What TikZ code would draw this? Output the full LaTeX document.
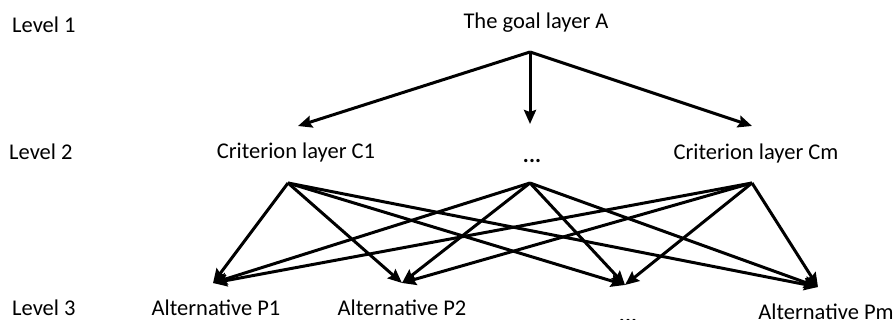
\documentclass[tikz,border=0pt]{standalone}
\usepackage{fontspec}
\setmainfont{Carlito}
\usetikzlibrary{arrows.meta}

\begin{document}
\begin{tikzpicture}[x=1pt,y=-1pt,>={Stealth[length=14pt,width=12pt,inset=2pt]},
  lbl/.style={anchor=base,inner sep=0pt,font=\fontsize{22.5}{27}\selectfont},
  link/.style={->,line width=3pt}]
\useasboundingbox (0,0) rectangle (893,320);
\node[lbl,anchor=base west] (lv1) at (12,33) {Level 1};
\node[lbl,anchor=base west] (lv2) at (9,160) {Level 2};
\node[lbl,anchor=base west] (lv3) at (12,315) {Level 3};
\node[lbl] (goal) at (536,29) {The goal layer A};
\node[lbl] (c1) at (296,159) {Criterion layer C1};
\node[lbl] (cdots) at (532,163) {\textbf{...}};
\node[lbl] (cm) at (756,160) {Criterion layer Cm};
\node[lbl] (p1) at (216,315) {Alternative P1};
\node[lbl] (p2) at (402,315) {Alternative P2};
\node[lbl] (pdots) at (628,322) {\textbf{...}};
\node[lbl] (pm) at (826,319) {Alternative Pm};
\coordinate (top) at (530,52);
\coordinate (c1in) at (298,126);
\coordinate (cdin) at (530,124);
\coordinate (cmin) at (752,126);
\coordinate (c1out) at (288,183);
\coordinate (cdout) at (530,183);
\coordinate (cmout) at (752,183);
\coordinate (p1in) at (213,283);
\coordinate (p2in) at (402,283);
\coordinate (pdin) at (625,285);
\coordinate (pmin) at (818,287);
\draw[link] (top) -- (c1in);
\draw[link] (top) -- (cdin);
\draw[link] (top) -- (cmin);
\draw[link] (c1out) -- (p1in);
\draw[link] (c1out) -- (p2in);
\draw[link] (c1out) -- (pdin);
\draw[link] (c1out) -- (pmin);
\draw[link] (cdout) -- (p1in);
\draw[link] (cdout) -- (p2in);
\draw[link] (cdout) -- (pdin);
\draw[link] (cdout) -- (pmin);
\draw[link] (cmout) -- (p1in);
\draw[link] (cmout) -- (p2in);
\draw[link] (cmout) -- (pdin);
\draw[link] (cmout) -- (pmin);
\end{tikzpicture}
\end{document}
